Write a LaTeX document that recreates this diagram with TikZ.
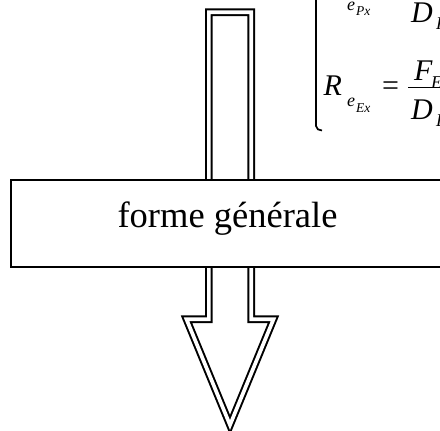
\documentclass[tikz,border=0pt]{standalone}
\usepackage{fontspec}
\setmainfont{Liberation Serif}
\newcommand\fsz[1]{\fontsize{#1}{#1}\selectfont}
\begin{document}
\begin{tikzpicture}[x=1pt,y=-1pt,
  arrowshape/.style={draw=black,line width=2pt,double=white,double distance=3.7pt,line join=miter},
  boxshape/.style={draw=black,line width=2pt,fill=white},
  label/.style={inner sep=0pt,anchor=base},
  mth/.style={inner sep=0pt,anchor=base west,font=\fsz{30}\itshape},
  msub/.style={inner sep=0pt,anchor=base west,font=\fsz{18}\itshape},
  msubsub/.style={inner sep=0pt,anchor=base west,font=\fsz{13.5}\itshape},
  brace/.style={draw=black,line width=1.7pt},
  bar/.style={draw=black,line width=1.3pt}]
\useasboundingbox (0,0) rectangle (440,431);
\clip (0,0) rectangle (440,431);
% big double-outlined arrow
\draw[arrowshape] (208.85,12.15) -- (251.25,12.15) -- (251.25,319.25) -- (273.5,319.25)
  -- (230,425) -- (186.5,319.25) -- (208.85,319.25) -- cycle;
% box
\draw[boxshape] (11,180) rectangle (460,267);
\node[label,font=\fsz{36.5}] (txt) at (227.5,227) {forme générale};
% formula (cropped)
\draw[brace] (316,-5) -- (316,126) to[out=-90,in=180] (322,130.5);
% line 1
\node[msub] (e1) at (347,10) {e};
\node[msubsub] (p1) at (356,16) {Px};
\node[mth] (d1) at (411,23) {D};
\node[msub] (d1s) at (436,30) {P};
% line 2
\node[mth] (r2) at (323.5,95) {R};
\node[msub] (e2) at (347,106) {e};
\node[msubsub] (x2) at (356,112) {Ex};
\node[mth,font=\fsz{30}] (eq2) at (382,95) {=};
\draw[bar] (408,87.5) -- (445,87.5);
\node[mth] (f2) at (414,81) {F};
\node[msub] (f2s) at (431,88) {E};
\node[mth] (d2) at (411,119) {D};
\node[msub] (d2s) at (436,126) {E};
\end{tikzpicture}
\end{document}
